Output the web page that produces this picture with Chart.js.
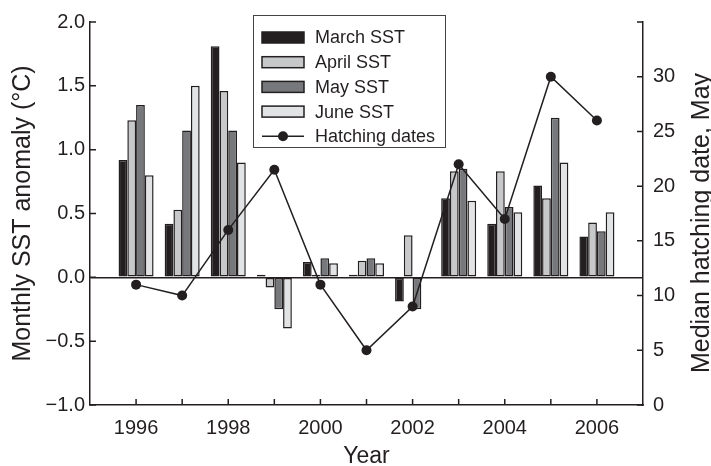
<!DOCTYPE html>
<html>
<head>
<meta charset="utf-8">
<script src="https://cdn.jsdelivr.net/npm/chart.js@4.4.1/dist/chart.umd.min.js"></script>
<style>
  body { margin: 0; background: #fff; }
  #box { width: 711px; height: 466px; }
</style>
</head>
<body>
<div id="box"><canvas id="grafico"></canvas></div>
<script>
const anos = [1996, 1997, 1998, 1999, 2000, 2001, 2002, 2003, 2004, 2005, 2006];
const marco = [0.92, 0.42, 1.81, 0.02, 0.12, 0.02, -0.19, 0.62, 0.42, 0.72, 0.32];
const abril = [1.23, 0.53, 1.46, -0.08, 0.02, 0.13, 0.33, 0.83, 0.83, 0.62, 0.43];
const maio = [1.35, 1.15, 1.15, -0.25, 0.15, 0.15, -0.25, 0.85, 0.55, 1.25, 0.36];
const junho = [0.80, 1.50, 0.90, -0.40, 0.11, 0.11, 0.00, 0.60, 0.51, 0.90, 0.51];
const eclosao = [11, 10, 16, 21.5, 11, 5, 9, 22, 17, 30, 26];

const yTicks = [-1.0, -0.5, 0.0, 0.5, 1.0, 1.5, 2.0];
const y2Ticks = [0, 5, 10, 15, 20, 25, 30];

const preto = "#231f20";
const fonte = "'Liberation Sans', Arial, Helvetica, sans-serif";
Chart.defaults.font.family = fonte;
Chart.defaults.color = preto;

function pontos(valores) {
    return anos.map((a, i) => ({ x: a, y: valores[i] }));
}

function barra(label, valores, cor) {
    return {
        type: "bar",
        label: label,
        data: pontos(valores),
        backgroundColor: cor,
        borderColor: preto,
        borderWidth: 1.5,
        borderSkipped: false,
        categoryPercentage: 0.76,
        barPercentage: 1,
        yAxisID: "y",
        order: 1
    };
}

// tick marks pointing inward, legend box and right title
const extras = {
    id: "extras",
    afterDraw(chart) {
        const c = chart.ctx;
        const x = chart.scales.x, y = chart.scales.y, y2 = chart.scales.y2;
        const area = chart.chartArea;
        const len = 6;
        c.save();
        c.strokeStyle = preto;
        c.lineWidth = 1.5;
        c.beginPath();
        anos.forEach(a => {
            const px = x.getPixelForValue(a);
            c.moveTo(px, area.bottom);
            c.lineTo(px, area.bottom - len);
        });
        yTicks.forEach(v => {
            const py = y.getPixelForValue(v);
            c.moveTo(area.left, py);
            c.lineTo(area.left + len, py);
        });
        y2Ticks.concat([35]).forEach(v => {
            const py = y2.getPixelForValue(v);
            c.moveTo(area.right, py);
            c.lineTo(area.right - len, py);
        });
        c.stroke();

        // legend
        const lx = 253, ly = 15, lw = 192, lh = 132;
        c.fillStyle = "#fff";
        c.fillRect(lx, ly, lw, lh);
        c.lineWidth = 1;
        c.strokeStyle = "#444";
        c.strokeRect(lx + 0.5, ly + 0.5, lw, lh);
        c.font = "18px " + fonte;
        c.textBaseline = "middle";
        c.textAlign = "left";
        chart.data.datasets.forEach((ds, i) => {
            const cy = 37.5 + i * 24.7;
            if (ds.type === "bar") {
                c.fillStyle = ds.backgroundColor;
                c.fillRect(262, cy - 5.5, 42, 11);
                c.lineWidth = 1.5;
                c.strokeStyle = preto;
                c.strokeRect(262, cy - 5.5, 42, 11);
            } else {
                c.lineWidth = 1.5;
                c.strokeStyle = preto;
                c.beginPath();
                c.moveTo(262, cy);
                c.lineTo(304, cy);
                c.stroke();
                c.fillStyle = preto;
                c.beginPath();
                c.arc(283, cy, 5, 0, Math.PI * 2);
                c.fill();
            }
            c.fillStyle = preto;
            c.fillText(ds.label, 315, cy + 1);
        });

        // right axis title, reading upward like the left one
        c.translate(709, 223);
        c.rotate(-Math.PI / 2);
        c.font = "25px " + fonte;
        c.textAlign = "center";
        c.textBaseline = "alphabetic";
        c.fillStyle = preto;
        c.fillText("Median hatching date, May", 0, 0);
        c.restore();
    }
};

const ctx = document.getElementById("grafico").getContext("2d");
const grafico = new Chart(ctx, {
    data: {
        datasets: [
            barra("March SST", marco, "#231f20"),
            barra("April SST", abril, "#c6c8ca"),
            barra("May SST", maio, "#77787b"),
            barra("June SST", junho, "#e2e3e4"),
            {
                type: "line",
                label: "Hatching dates",
                data: pontos(eclosao),
                borderColor: preto,
                borderWidth: 1.5,
                pointRadius: 5,
                pointBackgroundColor: preto,
                pointBorderWidth: 0,
                yAxisID: "y2",
                order: 0
            }
        ]
    },
    options: {
        responsive: true,
        maintainAspectRatio: false,
        animation: false,
        layout: { padding: { top: 19, left: 0, right: 0, bottom: 0 } },
        plugins: { legend: { display: false }, tooltip: { enabled: false } },
        scales: {
            x: {
                type: "linear",
                min: 1995,
                max: 2007,
                offset: false,
                grid: { display: false, offset: false },
                border: { display: true, color: preto, width: 1.5 },
                ticks: {
                    stepSize: 1,
                    padding: 3,
                    maxRotation: 0,
                    autoSkip: false,
                    font: { size: 20 },
                    callback: function (v) {
                        return (v % 2 === 0 && v >= 1996 && v <= 2006) ? String(v) : "";
                    }
                },
                title: { display: true, text: "Year", font: { size: 23, lineHeight: 0.8 }, padding: { top: 0, bottom: 0 } },
                afterFit: s => { s.height = 61; }
            },
            y: {
                position: "left",
                min: -1,
                max: 2,
                grid: {
                    drawTicks: false,
                    color: c => c.tick && c.tick.value === 0 ? preto : "transparent",
                    lineWidth: 1.5
                },
                border: { display: true, color: preto, width: 1.5 },
                ticks: {
                    stepSize: 0.5,
                    padding: 5,
                    font: { size: 20 },
                    callback: function (v) {
                        const t = Math.abs(v).toFixed(1);
                        return v < 0 ? "\u2212" + t : t;
                    }
                },
                title: { display: true, text: "Monthly SST anomaly (°C)", font: { size: 25 }, padding: { top: 8, bottom: 0 } },
                afterFit: s => { s.width = 90; }
            },
            y2: {
                position: "right",
                min: 0,
                max: 35,
                grid: { display: false, drawTicks: false },
                border: { display: true, color: preto, width: 1.5 },
                ticks: {
                    stepSize: 5,
                    padding: 10,
                    font: { size: 20 },
                    callback: function (v) {
                        return v === 35 ? "" : String(v);
                    }
                },
                afterFit: s => { s.width = 68; }
            }
        }
    },
    plugins: [extras]
});
</script>
</body>
</html>
